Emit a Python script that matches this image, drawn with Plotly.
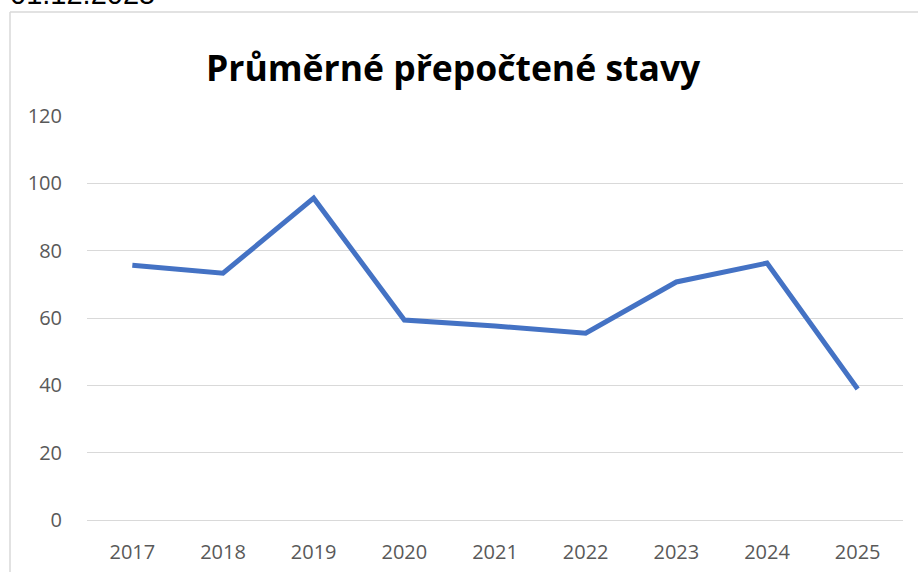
import plotly.graph_objects as go

years = ["2017", "2018", "2019", "2020", "2021", "2022", "2023", "2024", "2025"]
values = [75.7, 73.3, 95.6, 59.4, 57.6, 55.5, 70.7, 76.3, 38.9]
y_ticks = [0, 20, 40, 60, 80, 100, 120]

title_text = "Průměrné přepočtené stavy"
date_text = "01.12.2025"

W, H = 918, 572
L, R, T, B = 87, 15, 116, 52
ph = H - T - B
pw = W - L - R

def px_x(p):
    return (p - L) / pw

def px_y(p):
    return (H - B - p) / ph

fig = go.Figure()
fig.add_trace(go.Scatter(
    x=years, y=values, mode="lines",
    line=dict(color="#4472C4", width=5),
    hoverinfo="x+y",
))

fig.update_layout(
    width=W, height=H,
    autosize=False,
    margin=dict(l=L, r=R, t=T, b=B, pad=0, autoexpand=False),
    paper_bgcolor="white", plot_bgcolor="white",
    showlegend=False,
    font=dict(family="Open Sans, Noto Sans, sans-serif", color="#595959", size=20),
    xaxis=dict(
        type="category", range=[-0.5, 8.5], automargin=False,
        showgrid=False, showline=False, zeroline=False,
        ticks="", ticklabelstandoff=18,
        tickfont=dict(size=20, color="#595959"),
    ),
    yaxis=dict(
        range=[0, 120], tickvals=y_ticks, automargin=False,
        showgrid=True, gridcolor="#D9D9D9", gridwidth=1.3,
        zeroline=True, zerolinecolor="#D9D9D9", zerolinewidth=1.3,
        showline=False, ticks="", ticklabelstandoff=24,
        tickfont=dict(size=20, color="#595959"),
    ),
    annotations=[
        dict(text="<b>" + title_text + "</b>", xref="paper", yref="paper",
             x=px_x(453), y=px_y(67), xanchor="center", yanchor="middle",
             showarrow=False,
             font=dict(family="Open Sans, Noto Sans, sans-serif", size=35.5, color="#000000")),
        dict(text=date_text, xref="paper", yref="paper",
             x=px_x(8), y=px_y(12), xanchor="left", yanchor="bottom",
             showarrow=False,
             font=dict(family="Liberation Sans, Arial, sans-serif", size=29, color="#000000")),
    ],
    shapes=[
        dict(type="line", xref="paper", yref="paper",
             x0=px_x(10), x1=px_x(10), y0=px_y(12), y1=px_y(H + 5),
             line=dict(color="#D9D9D9", width=1.5)),
        dict(type="line", xref="paper", yref="paper",
             x0=px_x(10), x1=px_x(W + 5), y0=px_y(12), y1=px_y(12),
             line=dict(color="#D9D9D9", width=1.5)),
    ],
)

fig.write_html("out.html", config={"displayModeBar": False},
               post_script="document.body.style.margin='0px';document.body.style.overflow='hidden';")
